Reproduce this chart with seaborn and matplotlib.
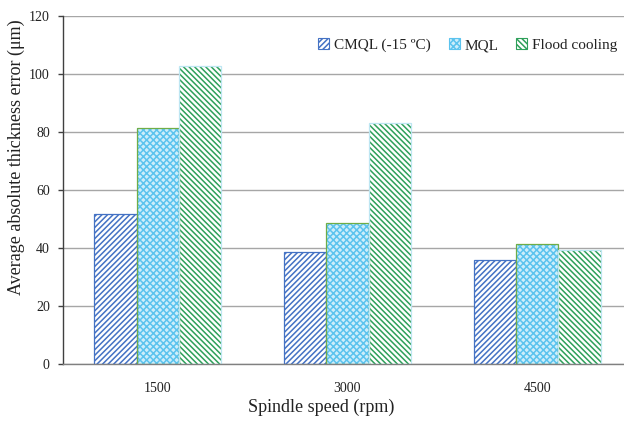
import matplotlib
matplotlib.use("Agg")
import matplotlib.pyplot as plt
import seaborn as sns
import pandas as pd
from matplotlib.patches import Patch, Rectangle

speeds = ["1500", "3000", "4500"]
series = ["CMQL (-15 ºC)", "MQL", "Flood cooling"]
cmql = [51.6, 38.6, 35.8]
mql = [81.5, 48.5, 41.3]
flood = [102.9, 83.0, 39.4]
yticks = [0, 20, 40, 60, 80, 100, 120]

hatch_colors = ["#4472C4", "#5BC3EE", "#2EA05A"]
face_colors = ["white", "#CDEEFB", "white"]
edge_colors = ["#4472C4", "#70AD47", "#BDE6F2"]
hatches = ["//////", "xxxxx", "\\\\\\\\\\\\"]

sns.set_theme(style="white")
plt.rcParams["font.family"] = ["Liberation Serif", "DejaVu Serif"]
plt.rcParams["hatch.linewidth"] = 1.1

df = pd.DataFrame({
    "speed": speeds * 3,
    "series": [series[0]] * 3 + [series[1]] * 3 + [series[2]] * 3,
    "value": cmql + mql + flood,
})

fig = plt.figure(figsize=(6.24, 4.21), dpi=100)
ax = fig.add_axes([63 / 624, 57 / 421, (624 - 63) / 624, (364 - 16) / 421])
sns.barplot(data=df, x="speed", y="value", hue="series", order=speeds,
            hue_order=series, width=0.67, ax=ax, legend=False,
            errorbar=None, saturation=1)

for i, cont in enumerate(ax.containers):
    for p in cont:
        p.set_facecolor(face_colors[i])
        p.set_hatch(hatches[i])
        p.set_edgecolor(hatch_colors[i])
        p.set_linewidth(0)
        ax.add_patch(Rectangle(p.get_xy(), p.get_width(), p.get_height(),
                               fill=False, edgecolor=edge_colors[i],
                               linewidth=0.9, zorder=p.get_zorder() + 0.1))

ax.set_ylim(0, 120)
ax.set_yticks(yticks)
ax.set_xlim(-0.5, 2.5 - 8 / 190)
ax.yaxis.grid(True, color="#A6A6A6", linewidth=1.0)
ax.set_axisbelow(True)
for s in ["top", "right"]:
    ax.spines[s].set_visible(False)
ax.spines["left"].set_color("#404040")
ax.spines["bottom"].set_color("#808080")
ax.spines["left"].set_linewidth(1.0)
ax.spines["bottom"].set_linewidth(1.0)
ax.tick_params(axis="y", left=True, length=3.5, width=1, color="#404040",
               labelsize=10, pad=6, labelcolor="#222222")
ax.tick_params(axis="x", bottom=False, labelsize=10, pad=7, labelcolor="#222222")
ax.set_ylabel("Average absolute thickness error (μm)", fontsize=13,
              color="#222222")
ax.yaxis.set_label_coords(-0.068, (364 - 157) / 348)
ax.set_xlabel("Spindle speed (rpm)", fontsize=13, color="#222222")
ax.xaxis.set_label_coords((321.5 - 63) / 561, -(399 - 364) / 348)

handles = []
for i in range(3):
    handles.append(Patch(facecolor=face_colors[i], edgecolor=hatch_colors[i],
                         hatch=hatches[i], linewidth=0.8, label=series[i]))
leg = ax.legend(handles=handles, loc="upper right", bbox_to_anchor=(1.012, 0.975),
                ncol=3, frameon=False, fontsize=11, handlelength=0.7,
                handleheight=0.7, handletextpad=0.3, columnspacing=1.2)
for t in leg.get_texts():
    t.set_color("#222222")

fig.savefig("out.png", dpi=100)
